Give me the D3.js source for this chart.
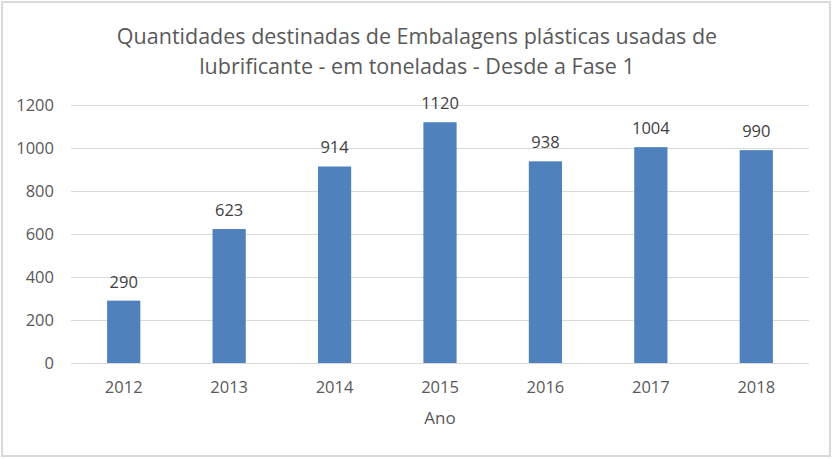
<!DOCTYPE html>
<html><head><meta charset="utf-8">
<script src="https://cdn.jsdelivr.net/npm/d3@7"></script>
<style>body{margin:0;background:#fff}svg{display:block}text{font-family:"Open Sans","Noto Sans",sans-serif}</style>
</head><body>
<script>
const categories = ["2012","2013","2014","2015","2016","2017","2018"];
const values = [290,623,914,1120,938,1004,990];
const yTicks = [0,200,400,600,800,1000,1200];
const titleLines = ["Quantidades destinadas de Embalagens plásticas usadas de","lubrificante - em toneladas - Desde a Fase 1"];
const xTitle = "Ano";

const W=834,H=459;
const svg=d3.select("body").append("svg").attr("width",W).attr("height",H);
svg.append("rect").attr("x",2).attr("y",2).attr("width",W-6).attr("height",H-5)
  .attr("fill","#fff").attr("stroke","#d9d9d9").attr("stroke-width",2);

const x=d3.scaleBand().domain(categories).range([71,809]).paddingInner(0.685).paddingOuter(0.3425);
const y=d3.scaleLinear().domain([0,1200]).range([363,105]);

svg.selectAll(".title").data(titleLines).enter().append("text")
  .attr("x",417).attr("y",(d,i)=>44+i*30).attr("text-anchor","middle")
  .attr("font-size",21.5).attr("fill","#595959").text(d=>d);

svg.append("g").selectAll("line").data(yTicks).enter().append("line")
  .attr("x1",71).attr("x2",809).attr("y1",d=>y(d)+0.5).attr("y2",d=>y(d)+0.5)
  .attr("stroke","#d9d9d9").attr("stroke-width",1);

svg.append("g").selectAll("text").data(yTicks).enter().append("text")
  .attr("x",54).attr("y",d=>y(d)+6).attr("text-anchor","end")
  .attr("font-size",16.5).attr("fill","#595959").text(d=>d);

svg.append("g").selectAll("rect").data(values).enter().append("rect")
  .attr("x",(d,i)=>x(categories[i])).attr("width",x.bandwidth())
  .attr("y",d=>y(d)).attr("height",d=>y(0)-y(d)).attr("fill","#4f81bd");

svg.append("g").selectAll("text").data(values).enter().append("text")
  .attr("x",(d,i)=>x(categories[i])+x.bandwidth()/2).attr("y",d=>y(d)-13)
  .attr("text-anchor","middle").attr("font-size",16.5).attr("fill","#404040").text(d=>d);

svg.append("g").selectAll("text").data(categories).enter().append("text")
  .attr("x",d=>x(d)+x.bandwidth()/2).attr("y",393)
  .attr("text-anchor","middle").attr("font-size",16.5).attr("fill","#595959").text(d=>d);

svg.append("text").attr("x",440).attr("y",424).attr("text-anchor","middle")
  .attr("font-size",17).attr("fill","#595959").text(xTitle);
</script>
</body></html>
